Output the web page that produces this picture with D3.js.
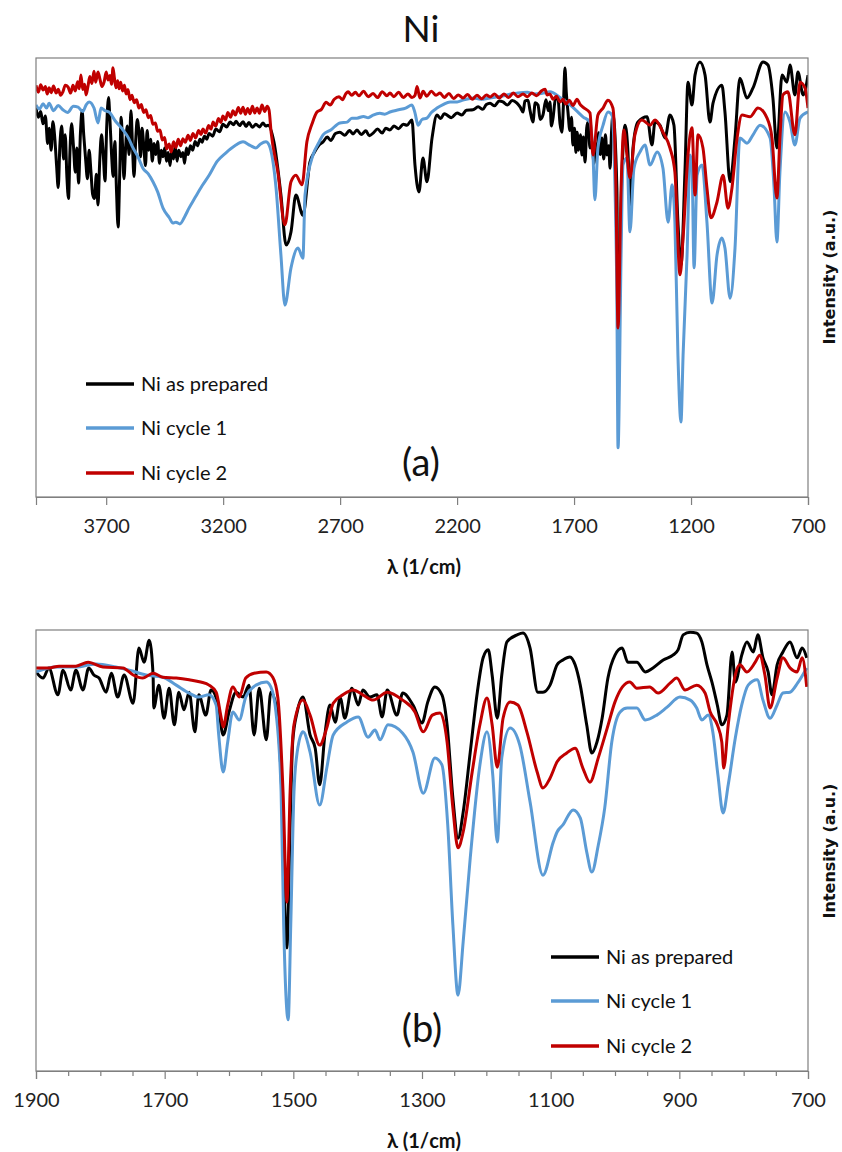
<!DOCTYPE html>
<html><head><meta charset="utf-8">
<script src="https://cdn.jsdelivr.net/npm/d3@7"></script>
<style>
html,body{margin:0;padding:0;background:#fff;}
</style></head>
<body><svg id="c" width="842" height="1152"></svg>
<script>
// ---------- DATA ----------
const title = "Ni";
const seriesNames = ["Ni as prepared", "Ni cycle 1", "Ni cycle 2"];
const seriesColors = ["#000000", "#5B9BD5", "#C00000"];

// panel (a): wavenumber (1/cm), intensity (a.u.)
const aAsPrepared = [[4000,88.6],[3990,86.5],[3980,87.8],[3970,85.0],[3960,86.8],[3950,80.5],[3944,84.0],[3935,79.0],[3928,85.5],[3920,82.0],[3912,75.5],[3905,70.5],[3898,80.0],[3890,84.5],[3882,77.0],[3875,82.5],[3868,73.0],[3861,68.0],[3855,78.5],[3848,85.0],[3840,80.0],[3832,74.0],[3825,79.5],[3818,71.5],[3810,83.0],[3803,88.0],[3796,82.5],[3788,77.0],[3780,72.5],[3773,79.0],[3765,74.0],[3758,69.0],[3750,68.0],[3742,73.5],[3735,66.5],[3728,76.0],[3720,82.5],[3713,78.5],[3705,72.0],[3698,84.0],[3690,91.0],[3684,86.0],[3677,78.0],[3670,73.0],[3663,81.0],[3656,70.0],[3649,61.5],[3642,74.0],[3636,86.5],[3630,80.0],[3624,72.5],[3617,79.5],[3610,84.5],[3602,78.0],[3594,88.0],[3587,79.0],[3581,73.0],[3574,81.0],[3567,86.0],[3560,83.0],[3553,77.5],[3547,84.0],[3540,80.5],[3532,75.5],[3525,83.5],[3518,79.0],[3510,81.5],[3503,76.5],[3495,80.5],[3488,78.0],[3480,81.0],[3472,76.0],[3465,79.0],[3457,77.5],[3450,79.5],[3442,76.5],[3435,78.5],[3427,75.5],[3420,79.0],[3412,77.0],[3405,80.0],[3397,76.5],[3390,79.0],[3380,77.5],[3372,78.5],[3365,76.0],[3357,79.5],[3350,78.0],[3340,80.0],[3330,79.0],[3320,81.0],[3310,80.0],[3299,81.5],[3290,80.8],[3280,82.2],[3270,81.5],[3260,82.8],[3245,82.2],[3231,83.8],[3215,83.2],[3201,84.9],[3185,84.3],[3170,85.4],[3155,84.8],[3145,85.6],[3130,84.6],[3115,85.5],[3102,84.4],[3090,85.3],[3075,84.2],[3060,84.9],[3045,84.3],[3030,85.2],[3018,84.5],[3008,84.7],[2983,80.9],[2953,68.8],[2931,57.4],[2910,60.4],[2889,68.8],[2859,64.2],[2829,76.3],[2810,78.5],[2790,80.2],[2773,80.9],[2755,82.0],[2740,81.2],[2720,82.8],[2701,83.1],[2680,82.4],[2660,83.5],[2645,82.7],[2628,83.6],[2610,82.6],[2590,83.4],[2575,82.3],[2559,82.9],[2540,83.8],[2520,82.9],[2505,84.0],[2487,83.6],[2470,84.5],[2450,83.9],[2430,84.9],[2414,84.7],[2393,85.9],[2380,75.6],[2363,69.5],[2346,77.2],[2329,71.8],[2307,81.8],[2286,87.0],[2270,86.2],[2255,87.3],[2243,87.0],[2225,86.4],[2200,87.5],[2180,87.0],[2160,88.1],[2132,88.2],[2110,88.9],[2090,88.3],[2075,89.4],[2059,89.7],[2040,89.1],[2020,90.2],[2004,90.0],[1985,89.3],[1965,90.3],[1944,89.7],[1930,88.8],[1918,87.7],[1910,90.2],[1897,90.4],[1888,88.0],[1876,85.4],[1866,89.8],[1854,89.3],[1845,86.0],[1833,87.0],[1820,90.5],[1810,88.0],[1803,90.0],[1797,84.5],[1790,86.3],[1780,90.5],[1769,90.9],[1760,85.0],[1752,83.1],[1745,90.0],[1739,97.7],[1733,92.0],[1726,87.7],[1718,83.5],[1711,86.5],[1705,80.2],[1698,84.0],[1692,78.5],[1687,83.1],[1680,79.0],[1673,82.5],[1666,77.9],[1660,82.0],[1653,76.3],[1646,84.0],[1640,85.4],[1632,79.5],[1623,80.9],[1615,76.0],[1608,80.5],[1602,77.9],[1595,83.0],[1588,78.0],[1581,81.8],[1573,77.0],[1566,82.5],[1559,77.9],[1552,80.0],[1546,74.9],[1540,83.0],[1534,87.0],[1517,70.4],[1512,35.8],[1495,74.0],[1482,84.7],[1469,77.9],[1461,65.8],[1448,79.5],[1427,85.4],[1388,86.6],[1367,80.2],[1354,85.4],[1333,84.7],[1311,81.8],[1290,87.0],[1273,84.7],[1256,62.6],[1243,52.8],[1226,74.0],[1213,94.5],[1196,89.3],[1183,96.1],[1162,99.1],[1140,96.1],[1119,85.4],[1106,89.7],[1068,93.8],[1055,87.7],[1033,71.8],[1012,81.8],[991,95.4],[961,90.9],[935,93.2],[892,99.1],[871,98.4],[850,90.9],[833,79.5],[811,96.1],[790,94.5],[777,98.4],[756,91.6],[743,96.8],[721,91.6],[700,96.1]];
const aCycle1 = [[4000,89.3],[3985,88.4],[3970,89.6],[3955,88.6],[3944,89.7],[3925,88.0],[3905,89.2],[3885,88.2],[3865,87.6],[3840,89.0],[3820,88.8],[3800,87.8],[3785,89.4],[3773,90.0],[3752,88.6],[3735,85.2],[3722,88.6],[3705,88.0],[3688,87.7],[3660,85.6],[3628,83.6],[3605,81.8],[3585,79.5],[3565,77.6],[3543,74.9],[3520,73.6],[3500,71.8],[3480,69.5],[3457,65.8],[3430,63.6],[3415,62.4],[3402,62.6],[3385,62.2],[3365,63.8],[3346,65.8],[3320,68.2],[3290,70.9],[3260,73.3],[3225,76.5],[3188,78.4],[3150,80.0],[3115,80.9],[3085,80.1],[3060,79.5],[3040,80.4],[3017,80.9],[3004,80.2],[2974,70.4],[2953,55.1],[2936,43.7],[2910,52.2],[2880,56.7],[2859,54.4],[2850,68.8],[2816,77.9],[2790,80.8],[2773,82.5],[2740,83.6],[2701,85.2],[2670,85.4],[2650,86.3],[2628,86.3],[2600,86.7],[2580,86.4],[2559,87.0],[2530,87.4],[2510,87.2],[2487,87.7],[2450,88.2],[2420,88.6],[2393,89.3],[2380,87.5],[2367,84.7],[2350,86.0],[2329,86.3],[2310,87.6],[2286,88.6],[2260,89.4],[2230,90.0],[2200,90.0],[2175,90.4],[2130,90.9],[2100,90.6],[2059,90.9],[2000,91.4],[1970,91.8],[1944,92.0],[1900,92.2],[1870,91.8],[1833,92.0],[1803,92.3],[1760,91.0],[1717,89.3],[1690,88.0],[1662,86.6],[1632,85.4],[1619,77.9],[1611,67.7],[1598,79.5],[1576,84.7],[1555,87.7],[1538,87.0],[1525,70.4],[1517,44.9],[1512,11.2],[1499,55.1],[1491,75.6],[1474,77.2],[1461,60.4],[1444,74.9],[1418,78.6],[1397,80.2],[1375,75.6],[1345,78.6],[1320,74.9],[1298,62.6],[1281,71.1],[1269,62.6],[1256,32.3],[1243,17.1],[1234,32.3],[1217,55.1],[1204,77.9],[1196,75.6],[1187,52.2],[1174,73.3],[1153,75.6],[1132,62.6],[1110,44.2],[1089,55.1],[1068,59.0],[1055,56.7],[1033,45.3],[1012,56.7],[991,81.8],[961,80.6],[935,82.5],[905,84.7],[862,81.8],[845,70.4],[833,58.1],[820,74.0],[798,87.7],[777,85.4],[756,80.2],[734,86.3],[700,87.7]];
const aCycle2 = [[4000,93.8],[3990,92.2],[3980,93.9],[3970,92.7],[3960,93.5],[3952,91.8],[3944,93.2],[3935,92.1],[3925,93.6],[3914,92.0],[3905,92.9],[3895,91.5],[3885,92.3],[3875,93.8],[3863,93.4],[3852,92.0],[3842,93.8],[3832,92.5],[3822,94.6],[3815,93.0],[3808,96.1],[3800,92.8],[3792,94.0],[3786,91.6],[3778,93.5],[3770,95.8],[3761,94.2],[3752,97.0],[3745,94.5],[3735,96.8],[3726,95.0],[3718,93.5],[3709,94.5],[3700,96.8],[3692,95.0],[3684,96.0],[3677,94.0],[3671,97.8],[3665,95.5],[3658,93.2],[3651,94.8],[3645,93.0],[3638,94.5],[3630,92.5],[3622,93.8],[3615,91.8],[3607,92.8],[3598,90.5],[3590,91.5],[3580,89.8],[3570,90.5],[3560,88.6],[3550,89.4],[3540,87.6],[3530,88.2],[3520,86.4],[3510,86.9],[3500,84.9],[3490,85.2],[3480,83.3],[3470,83.6],[3460,81.3],[3450,81.9],[3442,79.3],[3431,80.4],[3422,78.6],[3412,80.9],[3402,79.6],[3392,81.5],[3382,80.0],[3372,81.6],[3362,80.8],[3350,82.4],[3340,81.2],[3329,82.8],[3318,81.8],[3305,83.5],[3295,82.6],[3286,83.8],[3275,82.9],[3262,84.6],[3252,83.8],[3243,85.4],[3232,84.5],[3220,86.2],[3210,85.3],[3201,86.8],[3190,85.9],[3180,87.6],[3168,86.5],[3158,88.0],[3148,87.0],[3135,88.7],[3125,87.4],[3115,88.8],[3105,87.2],[3095,88.5],[3085,87.3],[3075,89.0],[3065,87.5],[3055,88.6],[3045,87.4],[3034,89.3],[3022,87.8],[3012,89.0],[3004,88.2],[2995,83.1],[2966,74.0],[2936,62.0],[2910,71.8],[2889,73.3],[2863,71.1],[2842,80.9],[2820,85.0],[2799,87.7],[2780,88.3],[2760,89.9],[2743,89.3],[2725,90.6],[2705,91.2],[2690,90.5],[2675,91.9],[2666,92.3],[2650,91.5],[2635,92.2],[2620,91.4],[2600,92.4],[2580,91.2],[2559,91.9],[2540,91.0],[2520,92.3],[2500,91.4],[2487,92.0],[2470,91.2],[2450,92.2],[2430,91.0],[2410,91.8],[2393,91.0],[2380,91.5],[2371,93.5],[2359,90.9],[2345,92.4],[2330,91.3],[2310,92.4],[2290,91.5],[2273,92.0],[2255,91.0],[2235,91.9],[2215,90.8],[2195,91.6],[2175,90.9],[2155,91.7],[2135,90.6],[2115,91.5],[2095,90.7],[2075,91.6],[2059,91.1],[2040,91.8],[2020,90.9],[2000,91.8],[1980,91.0],[1960,92.0],[1940,91.2],[1918,91.8],[1900,91.2],[1880,92.0],[1860,91.4],[1840,92.5],[1824,92.9],[1815,91.6],[1803,91.8],[1790,90.6],[1775,91.3],[1760,90.0],[1747,90.6],[1735,89.5],[1720,90.4],[1705,89.2],[1687,90.6],[1675,89.5],[1662,88.8],[1632,87.5],[1619,77.9],[1598,87.0],[1576,88.6],[1555,90.4],[1534,88.6],[1521,70.4],[1512,38.5],[1499,70.4],[1487,83.6],[1474,77.9],[1461,72.7],[1440,82.5],[1410,85.9],[1375,84.7],[1354,85.9],[1320,83.1],[1290,79.5],[1269,74.0],[1247,50.6],[1234,59.0],[1213,77.9],[1196,84.1],[1183,68.8],[1170,82.5],[1149,79.5],[1132,70.4],[1115,63.6],[1089,67.2],[1063,73.3],[1042,65.8],[1025,70.4],[1003,81.8],[982,87.0],[948,86.6],[914,88.6],[875,86.3],[854,81.8],[833,68.1],[820,81.8],[807,91.6],[786,92.3],[756,82.5],[734,94.5],[713,93.2],[700,88.6]];

// panel (b)
const bAsPrepared = [[1900,90.5],[1889,89.1],[1880,91.4],[1866,85.3],[1858,90.9],[1846,86.4],[1838,90.9],[1827,86.4],[1818,91.4],[1810,89.8],[1802,89.1],[1791,85.9],[1783,90.2],[1773,84.8],[1763,89.8],[1749,83.4],[1740,95.9],[1732,92.7],[1724,97.7],[1718,89.8],[1717,82.3],[1709,87.5],[1701,80.0],[1693,86.8],[1685,78.5],[1678,85.9],[1670,81.9],[1662,85.9],[1653,76.9],[1647,85.3],[1636,80.7],[1628,86.4],[1617,83.0],[1609,76.2],[1600,81.4],[1589,85.9],[1578,84.8],[1569,87.5],[1561,76.2],[1553,86.8],[1542,75.1],[1535,85.9],[1527,83.0],[1519,67.1],[1510,27.9],[1505,55.8],[1501,74.6],[1494,81.4],[1485,84.8],[1474,76.2],[1466,73.2],[1459,64.9],[1451,76.2],[1443,83.0],[1435,79.1],[1427,84.6],[1420,80.0],[1409,86.8],[1399,83.0],[1392,86.4],[1381,84.8],[1370,85.3],[1362,80.3],[1354,86.4],[1339,80.7],[1330,85.7],[1314,83.0],[1300,78.9],[1291,83.7],[1280,87.1],[1269,85.3],[1261,78.5],[1252,61.9],[1244,52.8],[1236,58.7],[1225,72.3],[1214,85.9],[1205,93.7],[1197,95.5],[1191,89.8],[1183,80.0],[1176,89.8],[1168,97.3],[1152,98.9],[1143,99.3],[1132,95.9],[1120,85.9],[1112,85.9],[1101,87.5],[1090,92.1],[1081,93.2],[1070,93.9],[1062,92.1],[1054,87.5],[1044,78.5],[1036,72.1],[1028,74.6],[1020,80.0],[1011,89.1],[1000,94.3],[989,95.9],[980,92.7],[966,92.7],[953,90.5],[941,91.4],[925,93.2],[910,94.3],[902,95.5],[894,98.9],[883,99.5],[873,99.3],[865,97.3],[857,92.1],[849,88.0],[841,83.0],[834,78.5],[826,80.7],[818,95.0],[813,88.2],[803,94.3],[795,97.3],[785,95.0],[778,98.9],[770,93.7],[762,90.5],[756,85.3],[748,92.1],[739,95.0],[728,97.3],[717,93.7],[709,95.9],[702,93.7]];
const bCycle1 = [[1900,90.5],[1869,91.6],[1838,91.6],[1807,92.3],[1776,91.6],[1755,90.9],[1729,89.8],[1703,89.3],[1682,87.5],[1662,85.7],[1647,84.8],[1631,85.3],[1620,83.0],[1616,76.2],[1609,67.8],[1602,74.6],[1594,81.4],[1584,79.6],[1574,84.8],[1558,87.5],[1542,88.2],[1535,87.1],[1527,81.4],[1519,63.3],[1515,33.1],[1508,11.6],[1504,33.1],[1499,63.3],[1494,72.3],[1485,76.9],[1474,72.3],[1459,60.3],[1448,68.7],[1438,76.2],[1417,79.1],[1399,80.3],[1384,75.7],[1373,77.3],[1365,75.1],[1353,78.5],[1330,76.6],[1314,72.3],[1298,63.0],[1280,71.0],[1269,69.4],[1260,55.8],[1252,33.1],[1244,17.2],[1236,29.3],[1225,48.3],[1210,69.4],[1199,76.9],[1190,67.1],[1183,51.9],[1176,71.0],[1163,77.8],[1148,73.9],[1132,61.0],[1112,44.4],[1096,51.9],[1090,54.2],[1081,55.8],[1065,59.2],[1054,57.4],[1044,49.7],[1036,45.1],[1026,51.2],[1016,59.6],[1005,74.6],[992,81.4],[981,82.3],[966,82.3],[953,79.6],[935,80.7],[919,82.5],[899,84.8],[883,84.1],[873,82.3],[865,79.6],[855,80.7],[848,76.9],[840,67.1],[832,58.5],[824,64.9],[813,75.5],[803,83.0],[793,87.5],[779,88.7],[770,84.1],[759,80.0],[748,83.0],[739,85.7],[728,85.9],[716,88.0],[702,91.4]];
const bCycle2 = [[1900,91.4],[1880,91.4],[1864,91.8],[1838,91.8],[1819,92.7],[1796,91.6],[1765,91.4],[1749,89.8],[1734,89.1],[1718,90.2],[1703,89.3],[1682,89.1],[1662,88.7],[1644,88.2],[1631,87.5],[1620,85.9],[1612,80.0],[1609,78.0],[1602,83.0],[1594,87.1],[1584,84.8],[1574,89.1],[1561,90.2],[1542,90.5],[1532,89.3],[1524,84.6],[1516,63.3],[1510,38.3],[1505,63.3],[1499,78.5],[1485,84.1],[1474,80.7],[1459,73.9],[1448,77.8],[1438,83.4],[1423,85.3],[1407,86.4],[1392,85.3],[1376,84.1],[1354,85.9],[1330,84.1],[1311,81.4],[1298,76.9],[1284,80.7],[1272,81.2],[1261,74.6],[1252,59.6],[1244,50.6],[1236,54.2],[1222,67.8],[1210,78.5],[1199,84.6],[1191,78.5],[1183,68.9],[1174,80.0],[1163,83.7],[1151,83.0],[1137,76.9],[1121,67.8],[1112,64.2],[1101,66.4],[1090,70.1],[1075,72.1],[1062,73.2],[1050,68.7],[1039,65.5],[1026,71.0],[1012,77.8],[1000,83.7],[977,88.2],[966,86.8],[946,87.1],[933,85.7],[914,88.0],[904,89.1],[891,86.4],[873,87.5],[860,85.7],[852,81.4],[841,78.5],[834,74.6],[831,68.7],[824,78.5],[813,89.8],[806,92.1],[795,90.5],[782,92.7],[775,94.3],[767,89.8],[759,82.3],[748,89.1],[739,93.7],[728,91.4],[717,90.5],[709,93.7],[702,87.1]];

const aTicks = [3700, 3200, 2700, 2200, 1700, 1200, 700];
const bTicks = [1900, 1700, 1500, 1300, 1100, 900, 700];
const bMinorTicks = [1850,1800,1750,1650,1600,1550,1450,1400,1350,1250,1200,1150,1050,1000,950,850,800,750];
const xTitle = "λ (1/cm)";
const yTitle = "Intensity (a.u.)";

// ---------- DRAW ----------
const FONT = "Lato, 'Noto Sans', sans-serif";
const svg = d3.select("#c");
svg.append("text").attr("x", 421).attr("y", 42).attr("text-anchor", "middle")
  .style("font-family", FONT).attr("font-size", 37).attr("fill", "#111").text(title);

function panel(cfg) {
  const {left, right, top, bottom, domain, ticks, minor, series, label, labelPos, legendX, legendY, id, ylabY} = cfg;
  const x = d3.scaleLinear().domain(domain).range([left, right]);
  const y = d3.scaleLinear().domain([0, 100]).range([bottom, top]);
  svg.append("clipPath").attr("id", id).append("rect")
    .attr("x", left).attr("y", top).attr("width", right - left).attr("height", bottom - top);
  const g = svg.append("g");
  const line = d3.line().x(d => x(d[0])).y(d => y(d[1])).curve(d3.curveMonotoneX);
  series.forEach((s, i) => {
    g.append("path").datum(s).attr("clip-path", `url(#${id})`)
      .attr("d", line).attr("fill", "none").attr("stroke", seriesColors[i])
      .attr("stroke-width", 3).attr("stroke-linejoin", "round");
  });
  svg.append("rect").attr("x", left).attr("y", top).attr("width", right - left).attr("height", bottom - top)
    .attr("fill", "none").attr("stroke", "#7f7f7f").attr("stroke-width", 1.2);
  const ax = svg.append("g").attr("transform", `translate(0,${bottom})`)
    .call(d3.axisBottom(x).tickValues(ticks).tickFormat(d3.format("d")).tickSize(8).tickPadding(14));
  ax.select(".domain").attr("stroke", "#7f7f7f").attr("stroke-width", 1.2);
  ax.selectAll(".tick line").attr("stroke", "#7f7f7f").attr("stroke-width", 1.2);
  ax.selectAll(".tick text").attr("font-size", 20).attr("fill", "#222").style("font-family", FONT);
  if (minor) {
    svg.append("g").attr("transform", `translate(0,${bottom})`)
      .call(d3.axisBottom(x).tickValues(minor).tickFormat("").tickSize(5))
      .call(g2 => { g2.select(".domain").remove(); g2.selectAll("line").attr("stroke", "#7f7f7f").attr("stroke-width", 1.2); });
  }
  svg.append("text").attr("x", (left + right) / 2 + 2).attr("y", bottom + 77).attr("text-anchor", "middle")
    .style("font-family", FONT).attr("font-size", 20).attr("font-weight", 700).attr("fill", "#111").text(xTitle);
  svg.append("text").attr("transform", `translate(835,${ylabY}) rotate(-90)`).attr("text-anchor", "middle")
    .style("font-family", "'DejaVu Sans', sans-serif").style("font-weight", "bold").attr("font-size", 16).attr("fill", "#111").text(yTitle);
  svg.append("text").attr("x", labelPos[0]).attr("y", labelPos[1]).attr("text-anchor", "middle")
    .style("font-family", FONT).attr("font-size", 38).attr("fill", "#111").text(label);
  seriesNames.forEach((n, i) => {
    const ly = legendY[i];
    svg.append("line").attr("x1", legendX).attr("x2", legendX + 48).attr("y1", ly).attr("y2", ly)
      .attr("stroke", seriesColors[i]).attr("stroke-width", 3.5);
    svg.append("text").attr("x", legendX + 55).attr("y", ly + 7).style("font-family", FONT)
      .attr("font-size", 20).attr("fill", "#111").text(n);
  });
}

panel({id: "ca", left: 36, right: 808, top: 58, bottom: 497, domain: [4000, 700], ticks: aTicks, minor: null,
  series: [aAsPrepared, aCycle1, aCycle2], label: "(a)", labelPos: [421, 476],
  legendX: 86, legendY: [384, 428, 473], ylabY: 277});
panel({id: "cb", left: 36, right: 808, top: 630, bottom: 1071, domain: [1900, 700], ticks: bTicks, minor: bMinorTicks,
  series: [bAsPrepared, bCycle1, bCycle2], label: "(b)", labelPos: [422, 1042],
  legendX: 551, legendY: [957, 1001, 1046], ylabY: 851});
</script></body></html>
